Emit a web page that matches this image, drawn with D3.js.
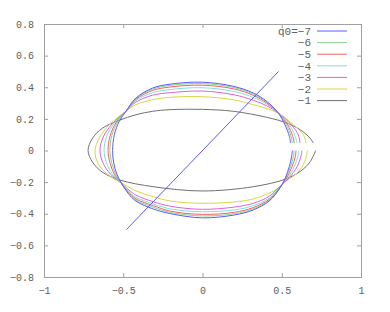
<!DOCTYPE html>
<html>
<head>
<meta charset="utf-8">
<script src="https://cdn.jsdelivr.net/npm/d3@7"></script>
<style>
  html, body { margin: 0; padding: 0; background: #fff; }
  text { font-family: "Liberation Mono", "DejaVu Sans Mono", monospace; font-size: 10px; fill: #606060; }
</style>
</head>
<body>
<div id="chart"></div>
<script>
// tick values and labels
const xTicks = [-1, -0.5, 0, 0.5, 1];
const xTickLabels = ["\u22121", "\u22120.5", "0", "0.5", "1"];
const yTicks = [-0.8, -0.6, -0.4, -0.2, 0, 0.2, 0.4, 0.6, 0.8];
const yTickLabels = ["\u22120.8", "\u22120.6", "\u22120.4", "\u22120.2", "0", "0.2", "0.4", "0.6", "0.8"];

const q0Values = [-7, -6, -5, -4, -3, -2, -1];
const seriesColors = ["#5a5aff", "#8fd08f", "#f06060", "#7fe0e0", "#e060e0", "#d8d840", "#707070"];

// traced curves (x, y), going from upper right end over the top, round the left, back along the bottom
const curveQ7 = [[0.556,0.047],[0.548,0.09],[0.52,0.163],[0.478,0.237],[0.405,0.311],[0.32,0.364],[0.194,0.406],[0,0.432],[-0.2,0.42],[-0.314,0.395],[-0.42,0.332],[-0.483,0.248],[-0.525,0.185],[-0.556,0.1],[-0.567,0],[-0.56,-0.08],[-0.54,-0.15],[-0.515,-0.2],[-0.47,-0.27],[-0.42,-0.32],[-0.31,-0.37],[-0.2,-0.4],[0,-0.426],[0.2,-0.408],[0.32,-0.376],[0.42,-0.32],[0.48,-0.25],[0.52,-0.18],[0.548,-0.1],[0.562,-0.04],[0.567,0]];
const curveQ6 = [[0.567,0.047],[0.558,0.092],[0.528,0.163],[0.478,0.237],[0.405,0.306],[0.32,0.357],[0.2,0.398],[0,0.423],[-0.2,0.412],[-0.314,0.388],[-0.42,0.328],[-0.483,0.248],[-0.535,0.18],[-0.572,0.095],[-0.584,0],[-0.572,-0.08],[-0.548,-0.15],[-0.518,-0.2],[-0.47,-0.265],[-0.42,-0.313],[-0.31,-0.359],[-0.2,-0.392],[0,-0.414],[0.2,-0.4],[0.32,-0.369],[0.42,-0.315],[0.48,-0.25],[0.523,-0.18],[0.556,-0.1],[0.573,-0.04],[0.578,0]];
const curveQ5 = [[0.579,0.047],[0.568,0.094],[0.537,0.163],[0.478,0.237],[0.405,0.301],[0.32,0.349],[0.2,0.389],[0,0.413],[-0.2,0.402],[-0.314,0.38],[-0.42,0.323],[-0.483,0.248],[-0.545,0.177],[-0.583,0.092],[-0.596,0],[-0.583,-0.08],[-0.556,-0.15],[-0.518,-0.2],[-0.47,-0.26],[-0.42,-0.306],[-0.31,-0.349],[-0.2,-0.384],[0,-0.404],[0.2,-0.391],[0.32,-0.361],[0.42,-0.31],[0.48,-0.245],[0.527,-0.18],[0.566,-0.1],[0.585,-0.04],[0.59,0]];
const curveQ4 = [[0.596,0.047],[0.583,0.096],[0.548,0.163],[0.478,0.237],[0.405,0.294],[0.32,0.336],[0.2,0.373],[0,0.397],[-0.2,0.386],[-0.314,0.366],[-0.42,0.316],[-0.483,0.248],[-0.557,0.172],[-0.605,0.088],[-0.621,0],[-0.605,-0.08],[-0.567,-0.15],[-0.52,-0.2],[-0.47,-0.255],[-0.42,-0.296],[-0.31,-0.338],[-0.2,-0.37],[0,-0.387],[0.2,-0.376],[0.32,-0.349],[0.42,-0.302],[0.48,-0.24],[0.533,-0.18],[0.58,-0.1],[0.601,-0.04],[0.607,0]];
const curveQ3 = [[0.615,0.047],[0.605,0.098],[0.56,0.163],[0.478,0.237],[0.405,0.283],[0.32,0.318],[0.2,0.352],[0,0.376],[-0.2,0.366],[-0.314,0.35],[-0.42,0.306],[-0.483,0.248],[-0.57,0.168],[-0.627,0.084],[-0.647,0],[-0.627,-0.08],[-0.58,-0.15],[-0.52,-0.2],[-0.47,-0.245],[-0.42,-0.282],[-0.31,-0.324],[-0.2,-0.353],[0,-0.372],[0.2,-0.358],[0.32,-0.334],[0.42,-0.29],[0.48,-0.235],[0.54,-0.18],[0.598,-0.1],[0.62,-0.04],[0.627,0]];
const curveQ2 = [[0.653,0.047],[0.636,0.1],[0.573,0.163],[0.478,0.237],[0.32,0.29],[0.194,0.321],[0,0.34],[-0.209,0.336],[-0.314,0.321],[-0.42,0.29],[-0.483,0.248],[-0.588,0.163],[-0.651,0.079],[-0.678,0],[-0.66,-0.08],[-0.6,-0.15],[-0.52,-0.2],[-0.42,-0.255],[-0.31,-0.292],[-0.2,-0.32],[0,-0.334],[0.2,-0.325],[0.31,-0.309],[0.42,-0.27],[0.48,-0.235],[0.52,-0.2],[0.6,-0.14],[0.645,-0.07],[0.662,0]];
const curveQ1 = [[0.699,0.047],[0.678,0.079],[0.615,0.132],[0.531,0.174],[0.405,0.21],[0.194,0.248],[0,0.26],[-0.209,0.258],[-0.314,0.248],[-0.42,0.226],[-0.525,0.191],[-0.63,0.142],[-0.693,0.079],[-0.722,0],[-0.693,-0.075],[-0.63,-0.138],[-0.52,-0.187],[-0.31,-0.229],[0,-0.256],[0.32,-0.229],[0.52,-0.182],[0.62,-0.13],[0.68,-0.07],[0.714,0]];
const curves = [curveQ7, curveQ6, curveQ5, curveQ4, curveQ3, curveQ2, curveQ1];

// the straight blue line
const diagonal = [[-0.48, -0.5], [0.48, 0.5]];

const width = 390, height = 312;
const margin = { left: 44, right: 361, top: 24, bottom: 277 };

const svg = d3.select("#chart")
  .append("svg")
  .attr("width", width)
  .attr("height", height);

const x = d3.scaleLinear().domain([-1, 1]).range([margin.left, margin.right]);
const y = d3.scaleLinear().domain([-0.8, 0.8]).range([margin.bottom, margin.top]);

// axes, gnuplot style: ticks inward on all four sides
const tick = 4;
svg.append("g")
  .attr("transform", `translate(0,${margin.bottom})`)
  .call(d3.axisBottom(x).tickValues(xTicks).tickSize(-tick).tickPadding(10)
    .tickFormat((d, i) => xTickLabels[i]));
svg.append("g")
  .attr("transform", `translate(0,${margin.top})`)
  .call(d3.axisTop(x).tickValues(xTicks).tickSize(-tick).tickFormat(""));
svg.append("g")
  .attr("transform", `translate(${margin.left},0)`)
  .call(d3.axisLeft(y).tickValues(yTicks).tickSize(-tick).tickPadding(10)
    .tickFormat((d, i) => yTickLabels[i]));
svg.append("g")
  .attr("transform", `translate(${margin.right},0)`)
  .call(d3.axisRight(y).tickValues(yTicks).tickSize(-tick).tickFormat(""));

svg.selectAll(".domain, .tick line")
  .attr("stroke", "#a0a0a0")
  .attr("stroke-width", 1);
svg.selectAll(".tick text")
  .attr("fill", "#606060")
  .style("font-family", "'Liberation Mono', monospace")
  .style("font-size", "10px");

const line = d3.line()
  .x(d => x(d[0]))
  .y(d => y(d[1]))
  .curve(d3.curveCatmullRom.alpha(0.5));

const plot = svg.append("g");

// draw the widest curve first so blue ends up on top
for (let i = curves.length - 1; i >= 0; i--) {
  plot.append("path")
    .attr("d", line(curves[i]))
    .attr("fill", "none")
    .attr("stroke", seriesColors[i])
    .attr("stroke-width", 1);
}

plot.append("path")
  .attr("d", d3.line().x(d => x(d[0])).y(d => y(d[1]))(diagonal))
  .attr("fill", "none")
  .attr("stroke", seriesColors[0])
  .attr("stroke-width", 1);

// legend
const legend = svg.append("g");
q0Values.forEach((q, i) => {
  let ly = 31 + i * 11.6;
  legend.append("text")
    .attr("x", 311)
    .attr("y", ly)
    .attr("dy", "0.35em")
    .attr("text-anchor", "end")
    .style("font-size", "11px")
    .text((i === 0 ? "q0=" : "") + String(q).replace("-", "\u2212"));
  legend.append("line")
    .attr("x1", 317)
    .attr("x2", 347)
    .attr("y1", ly)
    .attr("y2", ly)
    .attr("stroke", seriesColors[i])
    .attr("stroke-width", 1);
});
</script>
</body>
</html>
